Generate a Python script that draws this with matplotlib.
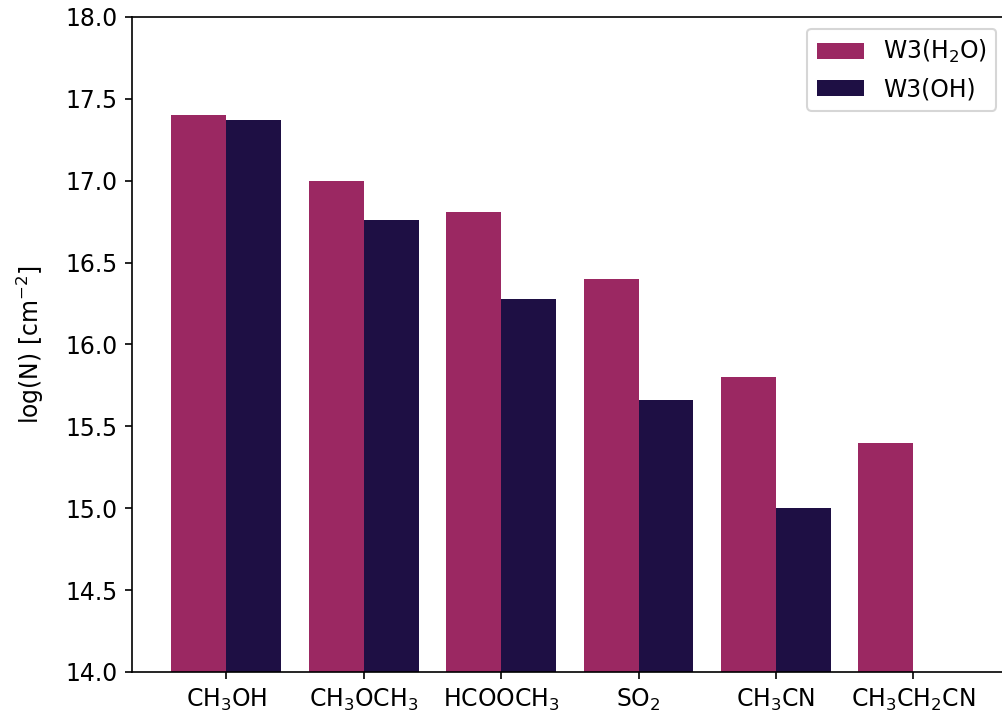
import matplotlib
matplotlib.use("Agg")
import matplotlib.pyplot as plt
import numpy as np

molecules = [r"CH$_3$OH", r"CH$_3$OCH$_3$", r"HCOOCH$_3$", r"SO$_2$",
             r"CH$_3$CN", r"CH$_3$CH$_2$CN"]
w3_h2o = [17.40, 17.00, 16.81, 16.40, 15.80, 15.40]
w3_oh = [17.37, 16.76, 16.28, 15.66, 15.00, np.nan]

x = np.arange(len(molecules))
width = 0.4

plt.rcParams["font.size"] = 11.3

fig = plt.figure(figsize=(6.68, 4.78), dpi=150)
# axes run a little past the right edge of the canvas
ax = fig.add_axes([0.1314, 0.0628, 0.8746, 0.9135])

ax.bar(x - width / 2, w3_h2o, width, color="#9b2862", label=r"W3(H$_2$O)")
ax.bar(x + width / 2, w3_oh, width, color="#1e0f44", label="W3(OH)")

ax.set_xticks(x)
ax.set_xticklabels(molecules)
ax.set_xlim(-0.69, 5.69)
ax.set_ylim(14, 18)
ax.set_ylabel(r"log(N) [cm$^{-2}$]", labelpad=9)
ax.legend(loc="upper right")

fig.savefig("out.png", dpi=150)
